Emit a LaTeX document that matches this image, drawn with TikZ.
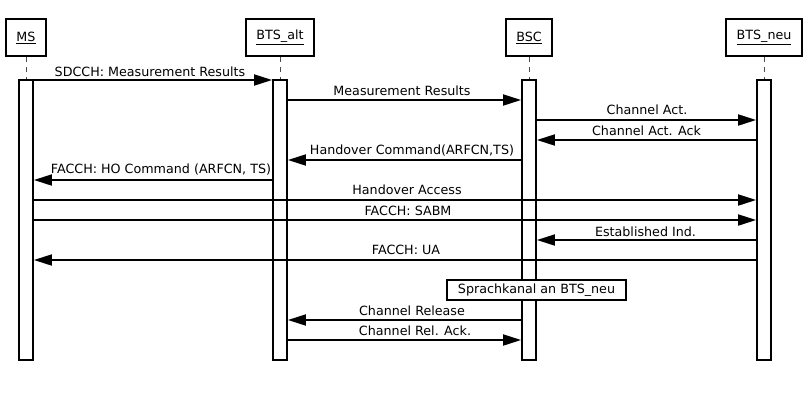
\documentclass[tikz,border=0pt]{standalone}
\usepackage{fontspec}
\setmainfont{DejaVu Sans}
\usetikzlibrary{arrows.meta}
\begin{document}
\begin{tikzpicture}[x=1pt,y=-1pt,
  txt/.style={font=\fontsize{12.7}{14}\selectfont},
  entity/.style={draw,line width=1.8pt,minimum height=37pt,inner sep=0pt,txt},
  act/.style={draw,line width=1.8pt,fill=white,minimum width=14pt,minimum height=280pt,inner sep=0pt},
  life/.style={draw=black!70,line width=0.8pt,dash pattern=on 5pt off 5pt},
  msg/.style={line width=1.8pt,-{Triangle[length=18pt,width=11pt]}},
  lbl/.style={anchor=base,inner sep=0pt,txt},
  note/.style={draw,line width=1.8pt,fill=white,minimum width=179pt,minimum height=20pt,inner sep=0pt,txt}]
\useasboundingbox (0,0) rectangle (810,402);
% entities
\node[entity,minimum width=40pt] (MS) at (26,37.5) {\underline{MS}};
\node[entity,minimum width=68pt] (BA) at (280,37.5) {\underline{BTS\_alt}};
\node[entity,minimum width=46pt] (BSC) at (529,37.5) {\underline{BSC}};
\node[entity,minimum width=76pt] (BN) at (764,37.5) {\underline{BTS\_neu}};
% activation bars
\node[act] (aMS) at (26,220) {};
\node[act] (aBA) at (280,220) {};
\node[act] (aBSC) at (529,220) {};
\node[act] (aBN) at (764,220) {};
% lifelines
\draw[life] (MS.south) -- (aMS.north);
\draw[life] (BA.south) -- (aBA.north);
\draw[life] (BSC.south) -- (aBSC.north);
\draw[life] (BN.south) -- (aBN.north);
% messages
\draw[msg] (aMS.east |- 0,80) -- (aBA.west |- 0,80);
\node[lbl] at (150,76) {SDCCH: Measurement Results};
\draw[msg] (aBA.east |- 0,100) -- (aBSC.west |- 0,100);
\node[lbl] at (402,95.5) {Measurement Results};
\draw[msg] (aBSC.east |- 0,120) -- (aBN.west |- 0,120);
\node[lbl] at (647,114.5) {Channel Act.};
\draw[msg] (aBN.west |- 0,140) -- (aBSC.east |- 0,140);
\node[lbl] at (646.5,135) {Channel Act. Ack};
\draw[msg] (aBSC.west |- 0,160) -- (aBA.east |- 0,160);
\node[lbl] at (412,154) {Handover Command(ARFCN,TS)};
\draw[msg] (aBA.west |- 0,180) -- (aMS.east |- 0,180);
\node[lbl] at (161,173) {FACCH: HO Command (ARFCN, TS)};
\draw[msg] (aMS.east |- 0,200) -- (aBN.west |- 0,200);
\node[lbl] at (407,194) {Handover Access};
\draw[msg] (aMS.east |- 0,220) -- (aBN.west |- 0,220);
\node[lbl] at (408,215.5) {FACCH: SABM};
\draw[msg] (aBN.west |- 0,240) -- (aBSC.east |- 0,240);
\node[lbl] at (645.5,236) {Established Ind.};
\draw[msg] (aBN.west |- 0,260) -- (aMS.east |- 0,260);
\node[lbl] at (406,254) {FACCH: UA};
\node[note] (sp) at (536.5,290) {Sprachkanal an BTS\_neu};
\draw[msg] (aBSC.west |- 0,320) -- (aBA.east |- 0,320);
\node[lbl] at (412,315) {Channel Release};
\draw[msg] (aBA.east |- 0,340) -- (aBSC.west |- 0,340);
\node[lbl] at (415,335.5) {Channel Rel. Ack.};
\end{tikzpicture}
\end{document}
